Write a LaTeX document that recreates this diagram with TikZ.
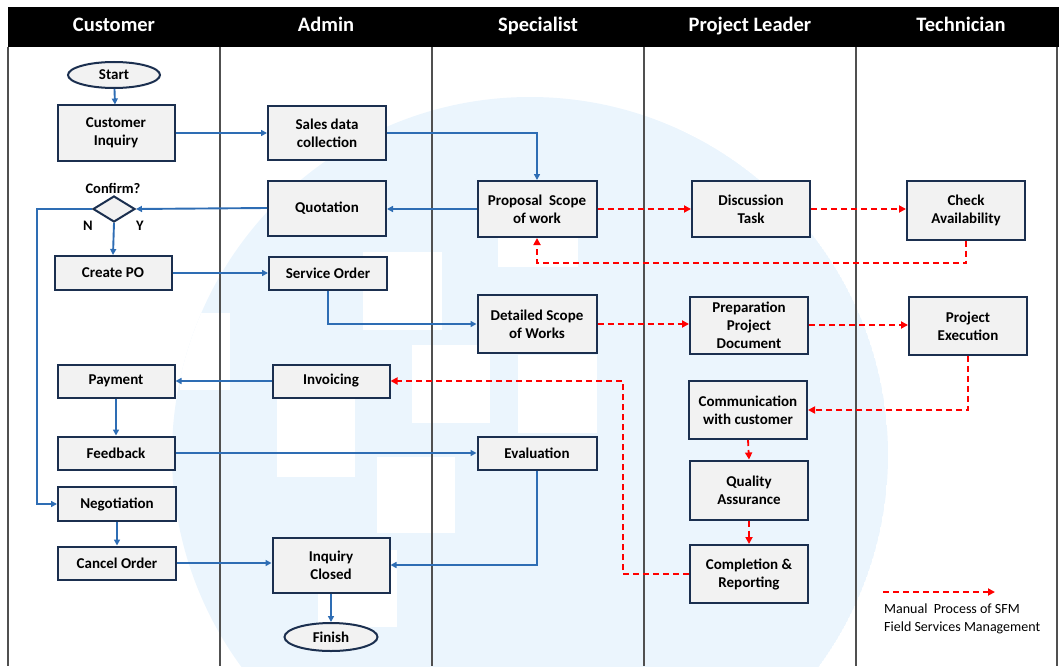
\documentclass[tikz,border=0pt]{standalone}
\usepackage{fontspec}
\setmainfont{Carlito}
\usetikzlibrary{arrows.meta,shapes.geometric}
\definecolor{navy}{HTML}{1B2F4F}
\definecolor{boxgray}{HTML}{F2F2F2}
\definecolor{flowblue}{HTML}{2E6DB4}
\definecolor{wmblue}{HTML}{EBF5FD}
\definecolor{lanegray}{HTML}{505050}
\tikzset{
  box/.style={draw=navy, line width=2pt, fill=boxgray, inner sep=0pt, align=center,
    font=\fontsize{15}{18}\selectfont\bfseries},
  term/.style={ellipse, draw=navy, line width=2pt, fill=boxgray, inner sep=0pt,
    font=\fontsize{15}{18}\selectfont\bfseries},
  decision/.style={diamond, draw=navy, line width=2pt, fill=boxgray, inner sep=0pt},
  flow/.style={draw=flowblue, line width=1.9pt, -{Triangle[length=6pt,width=6pt]}},
  manual/.style={draw=red, line width=1.8pt, dash pattern=on 6pt off 4pt,
    -{Triangle[length=7pt,width=7pt]}},
  lane/.style={draw=lanegray, line width=1.2pt},
  head/.style={text=white, anchor=base, inner sep=0pt, font=\fontsize{20.5}{24}\selectfont\bfseries},
  lbl/.style={font=\fontsize{14.5}{16}\selectfont\bfseries},
}
\begin{document}
\begin{tikzpicture}[x=1pt,y=-1pt]
\useasboundingbox (0,0) rectangle (1059,666);
% watermark
\begin{scope}
  \clip (0,0) rectangle (1059,666);
  \clip (530,455) circle (358pt);
  \fill[wmblue] (530,455) circle (358pt);
  \fill[white] (180,313) rectangle (230,390);
  \fill[white] (277,398) rectangle (355,477);
  \fill[white] (363,252) rectangle (442,330);
  \fill[white] (412,345) rectangle (490,423);
  \fill[white] (377,457) rectangle (455,533);
  \fill[white] (318,550) rectangle (397,627);
  \fill[white] (518,355) rectangle (597,433);
  \fill[white] (498,189) rectangle (578,267);
\end{scope}
% header
\fill[black] (8,7) rectangle (1059,47);
\node[head] (h1) at (114,32) {Customer};
\node[head] (h2) at (326,32) {Admin};
\node[head] (h3) at (538,32) {Specialist};
\node[head] (h4) at (750,32) {Project Leader};
\node[head] (h5) at (961,32) {Technician};
% lanes
\foreach \lx in {8,220,432,644,856,1057}
  \draw[lane] (\lx,47) -- (\lx,666);
% customer column
\node[term, minimum width=92pt, minimum height=26pt] (start) at (114,75) {Start};
\node[box, minimum width=117pt, minimum height=55pt] (ci) at (116,133) {Customer\\Inquiry};
\node[lbl] (cfm) at (113,188) {Confirm?};
\node[decision, minimum width=42pt, minimum height=26pt] (dia) at (114,209) {};
\node[lbl] (nn) at (88,226) {N};
\node[lbl] (yy) at (140,226) {Y};
\node[box, minimum width=117pt, minimum height=34pt] (po) at (113,273) {Create PO};
\node[box, minimum width=117pt, minimum height=33pt] (pay) at (116,381) {Payment};
\node[box, minimum width=117pt, minimum height=33pt] (fb) at (116,453) {Feedback};
\node[box, minimum width=118pt, minimum height=34pt] (neg) at (117,504) {Negotiation};
\node[box, minimum width=118pt, minimum height=33pt] (co) at (117,563) {Cancel Order};
% admin column
\node[box, minimum width=118pt, minimum height=54pt] (sdc) at (327,133) {Sales data\\collection};
\node[box, minimum width=118pt, minimum height=55pt] (quo) at (327,208) {Quotation};
\node[box, minimum width=118pt, minimum height=33pt] (so) at (328,273) {Service Order};
\node[box, minimum width=117pt, minimum height=33pt] (inv) at (331,381) {Invoicing};
\node[box, minimum width=117pt, minimum height=55pt] (inq) at (331,565) {Inquiry\\Closed};
\node[term, minimum width=93pt, minimum height=28pt] (fin) at (331,637) {Finish};
% specialist column
\node[box, minimum width=119pt, minimum height=56pt] (prop) at (537,209) {Proposal\ \ Scope\\of work};
\node[box, minimum width=119pt, minimum height=58pt] (det) at (537,324) {Detailed Scope\\of Works};
\node[box, minimum width=119pt, minimum height=33pt] (eval) at (537,453) {Evaluation};
% project leader column
\node[box, minimum width=118pt, minimum height=56pt] (disc) at (751,209) {Discussion\\Task};
\node[box, minimum width=118pt, minimum height=57pt] (prep) at (749,325) {Preparation\\Project\\Document};
\node[box, minimum width=118pt, minimum height=58pt] (comm) at (748,410) {Communication\\with customer};
\node[box, minimum width=118pt, minimum height=59pt] (qa) at (749,490) {Quality\\Assurance};
\node[box, minimum width=118pt, minimum height=58pt] (comp) at (749,574) {Completion \&\\Reporting};
% technician column
\node[box, minimum width=118pt, minimum height=59pt] (chk) at (966,210) {Check\\Availability};
\node[box, minimum width=118pt, minimum height=58pt] (pe) at (968,326) {Project\\Execution};
% turning points
\coordinate (nturn) at (37,209);
\coordinate (chkturn) at (966,263);
\coordinate (compturn) at (623,574);
% blue flow
\draw[flow] (start) -- (ci);
\draw[flow] (ci.east) -- (ci.east -| sdc.west);
\draw[flow] (sdc.east) -| (prop.north);
\draw[flow] (prop.west) -- (prop.west -| quo.east);
\draw[flow] (quo.west) -- (dia.east);
\draw[flow] (dia.south) -- (po.north);
\draw[flow] (dia.west) -- (nturn) |- (neg.west);
\draw[flow] (po.east) -- (po.east -| so.west);
\draw[flow] (so.south) |- (det.west);
\draw[flow] (inv.west) -- (inv.west -| pay.east);
\draw[flow] (pay) -- (fb);
\draw[flow] (fb.east) -- (fb.east -| eval.west);
\draw[flow] (eval.south) |- (inq.east);
\draw[flow] (neg) -- (co);
\draw[flow] (co.east) -- (co.east -| inq.west);
\draw[flow] (inq.south) -- (fin.north);
% red manual process
\draw[manual] (prop.east) -- (prop.east -| disc.west);
\draw[manual] (disc.east) -- (disc.east -| chk.west);
\draw[manual] (chk.south) -- (chkturn) -| (prop.south);
\draw[manual] (det.east) -- (det.east -| prep.west);
\draw[manual] (prep.east) -- (prep.east -| pe.west);
\draw[manual] (pe.south) |- (comm.east);
\draw[manual] (comm.south) -- (qa.north);
\draw[manual] (qa.south) -- (comp.north);
\draw[manual] (comp.west) -- (compturn) |- (inv.east);
% legend
\coordinate (lega) at (883,592);
\coordinate (legb) at (995,592);
\draw[manual] (lega) -- (legb);
\node[anchor=north west, align=left, inner sep=0pt, font=\fontsize{14}{17.5}\selectfont] (legtxt) at (884,604) {Manual\ \ Process of SFM\\Field Services Management};
\end{tikzpicture}
\end{document}
